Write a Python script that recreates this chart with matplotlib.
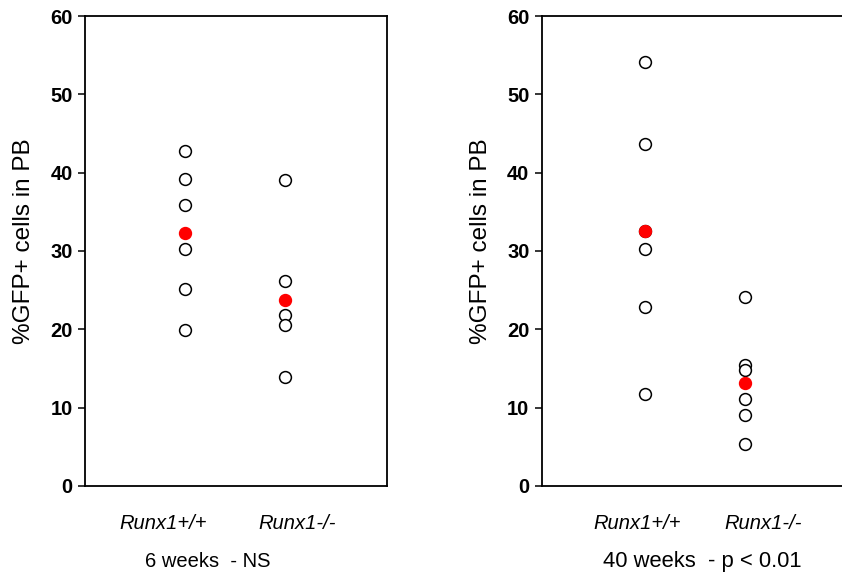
import matplotlib.pyplot as plt

plt.rcParams['font.family'] = ['Liberation Sans', 'DejaVu Sans']

groups = ['Runx1+/+', 'Runx1-/-']
titles = ['6 weeks  - NS', '40 weeks  - p < 0.01']

# individual mice, %GFP+ cells in PB
wk6_wt = [42.8, 39.2, 35.9, 30.3, 25.2, 19.9]
wk6_ko = [39.1, 26.2, 21.8, 20.6, 13.9]
wk6_mean = [32.3, 23.8]

wk40_wt = [54.1, 43.7, 32.6, 30.3, 22.8, 11.7]
wk40_ko = [24.1, 15.5, 14.8, 11.1, 9.0, 5.3]
wk40_mean = [32.6, 13.2]

panels = [(wk6_wt, wk6_ko, wk6_mean), (wk40_wt, wk40_ko, wk40_mean)]

fig = plt.figure(figsize=(8.42, 5.76), dpi=100)
lefts = [0.101, 0.6437]
xlims = [(0, 3.02), (-0.03, 2.99)]
label_x = [(0.78, 2.12), (0.92, 2.18)]
title_x = [0.60, 0.58]
title_size = [14.5, 15.8]

for k, (wt, ko, mean) in enumerate(panels):
    ax = fig.add_axes([lefts[k], 0.1563, 0.3587, 0.8159])
    ax.plot([1] * len(wt), wt, 'o', ms=8.5, mfc='white', mec='black', mew=1.1, ls='none')
    ax.plot([2] * len(ko), ko, 'o', ms=8.5, mfc='white', mec='black', mew=1.1, ls='none')
    ax.plot([1, 2], mean, 'o', ms=8.5, mfc='red', mec='red', mew=1.1, ls='none')
    ax.set_xlim(*xlims[k])
    ax.set_ylim(0, 60)
    ax.set_xticks([])
    ax.set_yticks(range(0, 61, 10))
    ax.tick_params(axis='y', direction='out', length=5, width=1.1, pad=4, labelsize=14.5)
    for t in ax.get_yticklabels():
        t.set_fontweight('bold')
    for s in ax.spines.values():
        s.set_linewidth(1.3)
    ax.set_ylabel('%GFP+ cells in PB', fontsize=17.5)
    ax.yaxis.set_label_coords(-0.165, 0.52)
    for x, g in zip(label_x[k], groups):
        ax.text(x, -0.08, g, transform=ax.get_xaxis_transform(), ha='center', va='center',
                fontsize=14.5, style='italic')
    ax.text(title_x[k], -0.16, titles[k], transform=ax.get_xaxis_transform(), ha='left', va='center',
            fontsize=title_size[k])

fig.savefig('out.png', dpi=100)
